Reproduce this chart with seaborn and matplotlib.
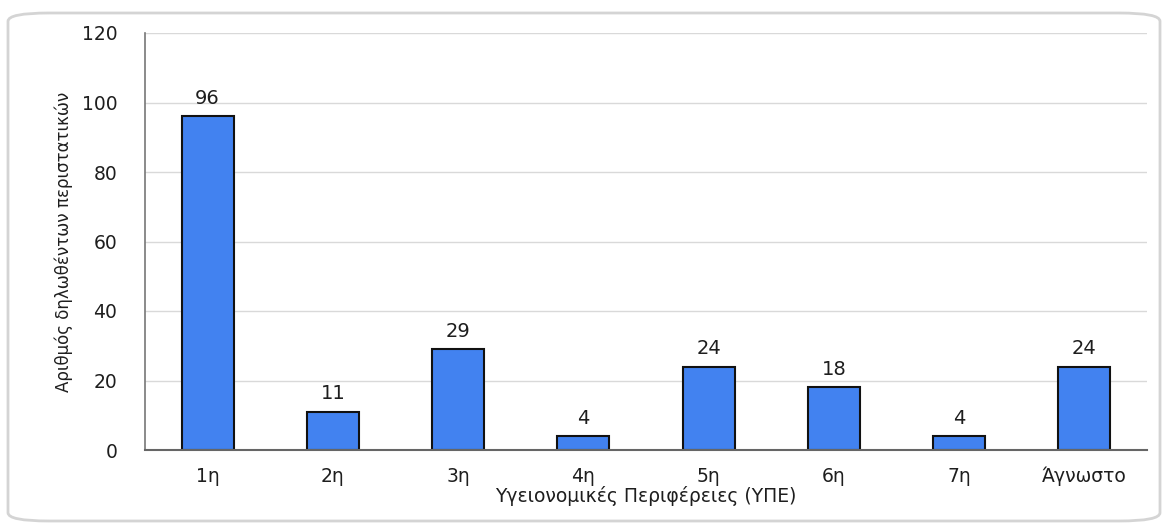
import matplotlib
matplotlib.use("Agg")
import matplotlib.pyplot as plt
from matplotlib.patches import FancyBboxPatch
import seaborn as sns
import pandas as pd

regions = ["1η", "2η", "3η", "4η", "5η", "6η", "7η", "Άγνωστο"]
cases = [96, 11, 29, 4, 24, 18, 4, 24]
y_ticks = [0, 20, 40, 60, 80, 100, 120]

sns.set_theme(style="white")
plt.rcParams["font.family"] = ["DejaVu Sans"]

df = pd.DataFrame({"region": regions, "cases": cases})

fig = plt.figure(figsize=(11.65, 5.25), dpi=100)
fig.patch.set_facecolor("white")

# rounded frame around the chart
frame = FancyBboxPatch((8 / 1165, 4 / 525), 1152 / 1165, 508 / 525,
                       boxstyle="round,pad=0,rounding_size=0.035",
                       transform=fig.transFigure, facecolor="none",
                       edgecolor="#d4d4d4", linewidth=2, mutation_aspect=525 / 1165)
fig.patches.append(frame)

ax = fig.add_axes([145 / 1165, 1 - 450 / 525, 1002 / 1165, 417 / 525])
sns.barplot(data=df, x="region", y="cases", color="#4282f0", width=0.415,
            edgecolor="#111111", linewidth=1.5, saturation=1, ax=ax)

ax.set_ylim(0, 120)
ax.set_yticks(y_ticks)
ax.yaxis.grid(True, color="#d9d9d9", linewidth=1)
ax.set_axisbelow(True)
for s in ["top", "right"]:
    ax.spines[s].set_visible(False)
ax.spines["left"].set_color("#777777")
ax.spines["bottom"].set_color("#666666")
ax.spines["left"].set_linewidth(1.2)
ax.spines["bottom"].set_linewidth(1.5)
ax.tick_params(axis="both", length=0, labelsize=13.5, colors="#1e1e1e")
ax.tick_params(axis="y", pad=20)
ax.tick_params(axis="x", pad=12)

ax.bar_label(ax.containers[0], labels=[str(v) for v in cases], padding=6,
             fontsize=14, color="#1e1e1e")

ax.set_xlabel("Υγειονομικές Περιφέρειες (ΥΠΕ)", fontsize=13.5, color="#1e1e1e", labelpad=0)
ax.set_ylabel("Αριθμός δηλωθέντων περιστατικών", fontsize=12, color="#1e1e1e", labelpad=6)

fig.savefig("out.png", dpi=100)
